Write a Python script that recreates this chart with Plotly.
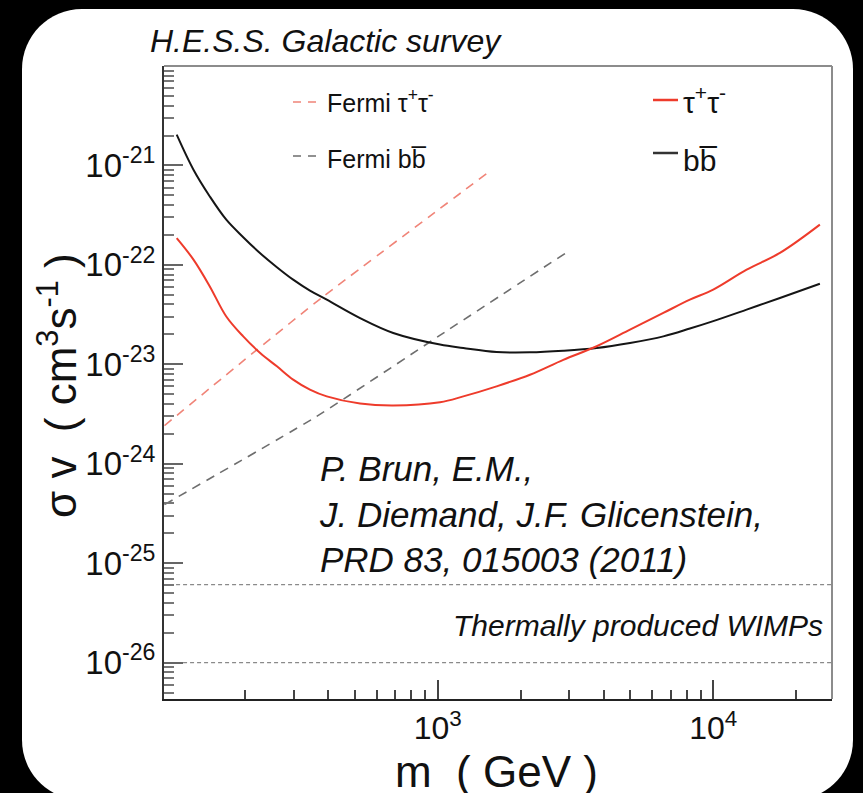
import plotly.graph_objects as go

# ---------------- data ----------------
curve_mass = [113, 130, 149, 171, 197, 227, 261, 299, 344, 396, 523, 690, 1020, 1239, 1636,
              2163, 2857, 3776, 4989, 6592, 8228, 10000, 13220, 17460, 24380]
bb_sigmav = [2.04e-21, 9.06e-22, 4.88e-22, 2.85e-22, 1.90e-22, 1.31e-22, 9.48e-23, 7.1e-23,
             5.51e-23, 4.47e-23, 2.92e-23, 2.07e-23, 1.58e-23, 1.46e-23, 1.33e-23, 1.32e-23,
             1.37e-23, 1.46e-23, 1.64e-23, 1.91e-23, 2.29e-23, 2.72e-23, 3.55e-23,
             4.65e-23, 6.47e-23]
tau_sigmav = [1.86e-22, 1.13e-22, 6.08e-23, 3.03e-23, 1.91e-23, 1.30e-23, 9.55e-24, 7.02e-24,
              5.57e-24, 4.76e-24, 4.03e-24, 3.85e-24, 4.15e-24, 4.76e-24, 6.01e-24, 7.87e-24,
              1.11e-23, 1.52e-23, 2.23e-23, 3.29e-23, 4.47e-23, 5.64e-23, 8.95e-23,
              1.32e-22, 2.54e-22]
fermi_tau_mass = [102, 220, 385, 1571]
fermi_tau_sigmav = [2.42e-24, 1.39e-23, 4.82e-23, 9.05e-22]
fermi_bb_mass = [102, 364, 1005, 2897]
fermi_bb_sigmav = [3.89e-25, 3.0e-24, 1.91e-23, 1.30e-22]
thermal_mass = [100, 30000]
thermal_upper = [6.1e-26, 6.1e-26]
thermal_lower = [1e-26, 1e-26]

x_tick_vals = [1e3, 1e4]
x_tick_text = ["10<sup>3</sup>", "10<sup>4</sup>"]
y_tick_vals = [1e-26, 1e-25, 1e-24, 1e-23, 1e-22, 1e-21]
y_tick_text = ["10<sup>-26</sup>", "10<sup>-25</sup>", "10<sup>-24</sup>",
               "10<sup>-23</sup>", "10<sup>-22</sup>", "10<sup>-21</sup>"]

# ---------------- layout geometry ----------------
FIG_W, FIG_H = 863, 793
L, R, T, B = 164, 832, 66, 699
W, H = R - L, B - T
FONT = "Liberation Sans, Arial, Helvetica, sans-serif"


def fx(x):
    return (x - L) / W


def fy(y):
    return (B - y) / H


def P(x, y):
    return f"{fx(x):.5f},{fy(y):.5f}"


# minor ticks (digits 2..9 in every decade)
x_minor = [d * 10 ** e for e in range(2, 5) for d in range(2, 10)]
y_minor = [d * 10.0 ** e for e in range(-27, -20) for d in range(2, 10)]

fig = go.Figure()

fig.add_trace(go.Scatter(x=thermal_mass, y=thermal_upper, mode="lines",
                         line=dict(color="#8a8a8a", width=1.2, dash="4px,3px"),
                         showlegend=False, hoverinfo="skip"))
fig.add_trace(go.Scatter(x=thermal_mass, y=thermal_lower, mode="lines",
                         line=dict(color="#8a8a8a", width=1.2, dash="4px,3px"),
                         showlegend=False, hoverinfo="skip"))
fig.add_trace(go.Scatter(x=fermi_tau_mass, y=fermi_tau_sigmav, mode="lines",
                         line=dict(color="#f08478", width=1.6, dash="9px,7px", shape="spline", smoothing=0.5),
                         name="Fermi τ+τ-", showlegend=False))
fig.add_trace(go.Scatter(x=fermi_bb_mass, y=fermi_bb_sigmav, mode="lines",
                         line=dict(color="#6e6e6e", width=1.6, dash="9px,7px", shape="spline", smoothing=0.5),
                         name="Fermi bb", showlegend=False))
fig.add_trace(go.Scatter(x=curve_mass, y=bb_sigmav, mode="lines",
                         line=dict(color="#151515", width=2, shape="spline", smoothing=1.0),
                         name="bb", showlegend=False))
fig.add_trace(go.Scatter(x=curve_mass, y=tau_sigmav, mode="lines",
                         line=dict(color="#ee3b2b", width=2, shape="spline", smoothing=1.0),
                         name="τ+τ-", showlegend=False))

# rounded white panel
l0, r0, t0, b0, rad = 22, 853, 9, 800, 60
k = 0.5523 * rad
panel = (f"M {P(l0 + rad, t0)} L {P(r0 - rad, t0)} "
         f"C {P(r0 - rad + k, t0)} {P(r0, t0 + rad - k)} {P(r0, t0 + rad)} "
         f"L {P(r0, b0 - rad)} "
         f"C {P(r0, b0 - rad + k)} {P(r0 - rad + k, b0)} {P(r0 - rad, b0)} "
         f"L {P(l0 + rad, b0)} "
         f"C {P(l0 + rad - k, b0)} {P(l0, b0 - rad + k)} {P(l0, b0 - rad)} "
         f"L {P(l0, t0 + rad)} "
         f"C {P(l0, t0 + rad - k)} {P(l0 + rad - k, t0)} {P(l0 + rad, t0)} Z")

shapes = [
    dict(type="path", path=panel, xref="paper", yref="paper", layer="below",
         fillcolor="white", line=dict(width=0)),
    # top and right frame (grey)
    dict(type="line", xref="paper", yref="paper", x0=0, x1=1, y0=1, y1=1,
         line=dict(color="#8c8c8c", width=2)),
    dict(type="line", xref="paper", yref="paper", x0=1, x1=1, y0=0, y1=1,
         line=dict(color="#8c8c8c", width=2)),
    # legend line samples
    dict(type="line", xref="paper", yref="paper", x0=fx(293), x1=fx(317), y0=fy(102), y1=fy(102),
         line=dict(color="#f08478", width=1.6, dash="8px,7px")),
    dict(type="line", xref="paper", yref="paper", x0=fx(293), x1=fx(317), y0=fy(156), y1=fy(156),
         line=dict(color="#6e6e6e", width=1.6, dash="8px,7px")),
    dict(type="line", xref="paper", yref="paper", x0=fx(653), x1=fx(678), y0=fy(100), y1=fy(100),
         line=dict(color="#ee3b2b", width=2.5)),
    dict(type="line", xref="paper", yref="paper", x0=fx(653), x1=fx(678), y0=fy(153), y1=fy(153),
         line=dict(color="#333333", width=2.5)),
]


def ann(text, x, y, size, xanchor="left", yanchor="middle", italic=False, angle=0, align="left"):
    t = f"<i>{text}</i>" if italic else text
    return dict(text=t, x=fx(x), y=fy(y), xref="paper", yref="paper", showarrow=False,
                xanchor=xanchor, yanchor=yanchor, textangle=angle, align=align,
                font=dict(family=FONT, size=size, color="#111"))


annotations = [
    ann("H.E.S.S. Galactic survey", 148, 41, 32, italic=True),
    ann("Fermi τ<sup>+</sup>τ<sup>-</sup>", 325, 101, 25),
    ann("Fermi bb\u0305", 325, 159, 25),
    ann("τ<sup>+</sup>τ<sup>-</sup>", 681, 100, 30),
    ann("bb\u0305", 681, 161, 30),
    ann("P. Brun, E.M.,<br>J. Diemand, J.F. Glicenstein,<br>PRD 83, 015003 (2011)",
        317, 514, 35, italic=True),
    ann("Thermally produced WIMPs", 825, 625, 30, xanchor="right", italic=True),
    ann("m  ( GeV )", 496, 771, 44, xanchor="center"),
    ann("σ v  ( cm<sup>3</sup>s<sup>-1</sup> )", 57, 385, 44, xanchor="center", angle=-90),
]

fig.update_layout(
    width=FIG_W, height=FIG_H,
    margin=dict(l=L, r=FIG_W - R, t=T, b=FIG_H - B, pad=0),
    paper_bgcolor="black", plot_bgcolor="rgba(0,0,0,0)",
    shapes=shapes, annotations=annotations, showlegend=False,
    xaxis=dict(type="log", range=[2.007, 4.431], showgrid=False, zeroline=False,
               showline=True, linecolor="#222", linewidth=2, mirror=False,
               ticks="inside", ticklen=19, tickwidth=1.5, tickcolor="#444",
               tickmode="array", tickvals=x_tick_vals, ticktext=x_tick_text,
               ticklabelstandoff=0,
               tickfont=dict(family=FONT, size=32, color="#111"),
               minor=dict(tickmode="array", tickvals=x_minor, ticks="inside", ticklen=9,
                          tickwidth=1.5, tickcolor="#444", showgrid=False)),
    yaxis=dict(type="log", range=[-26.365, -20.0], showgrid=False, zeroline=False,
               showline=True, linecolor="#333", linewidth=2, mirror=False,
               ticks="inside", ticklen=19, tickwidth=1.5, tickcolor="#666",
               tickmode="array", tickvals=y_tick_vals, ticktext=y_tick_text,
               tickfont=dict(family=FONT, size=33, color="#111"),
               minor=dict(tickmode="array", tickvals=y_minor, ticks="inside", ticklen=10,
                          tickwidth=1.5, tickcolor="#777", showgrid=False)),
)

fig.write_html("out.html", config={"displayModeBar": False},
               post_script="document.body.style.margin='0';document.body.style.background='black';")
